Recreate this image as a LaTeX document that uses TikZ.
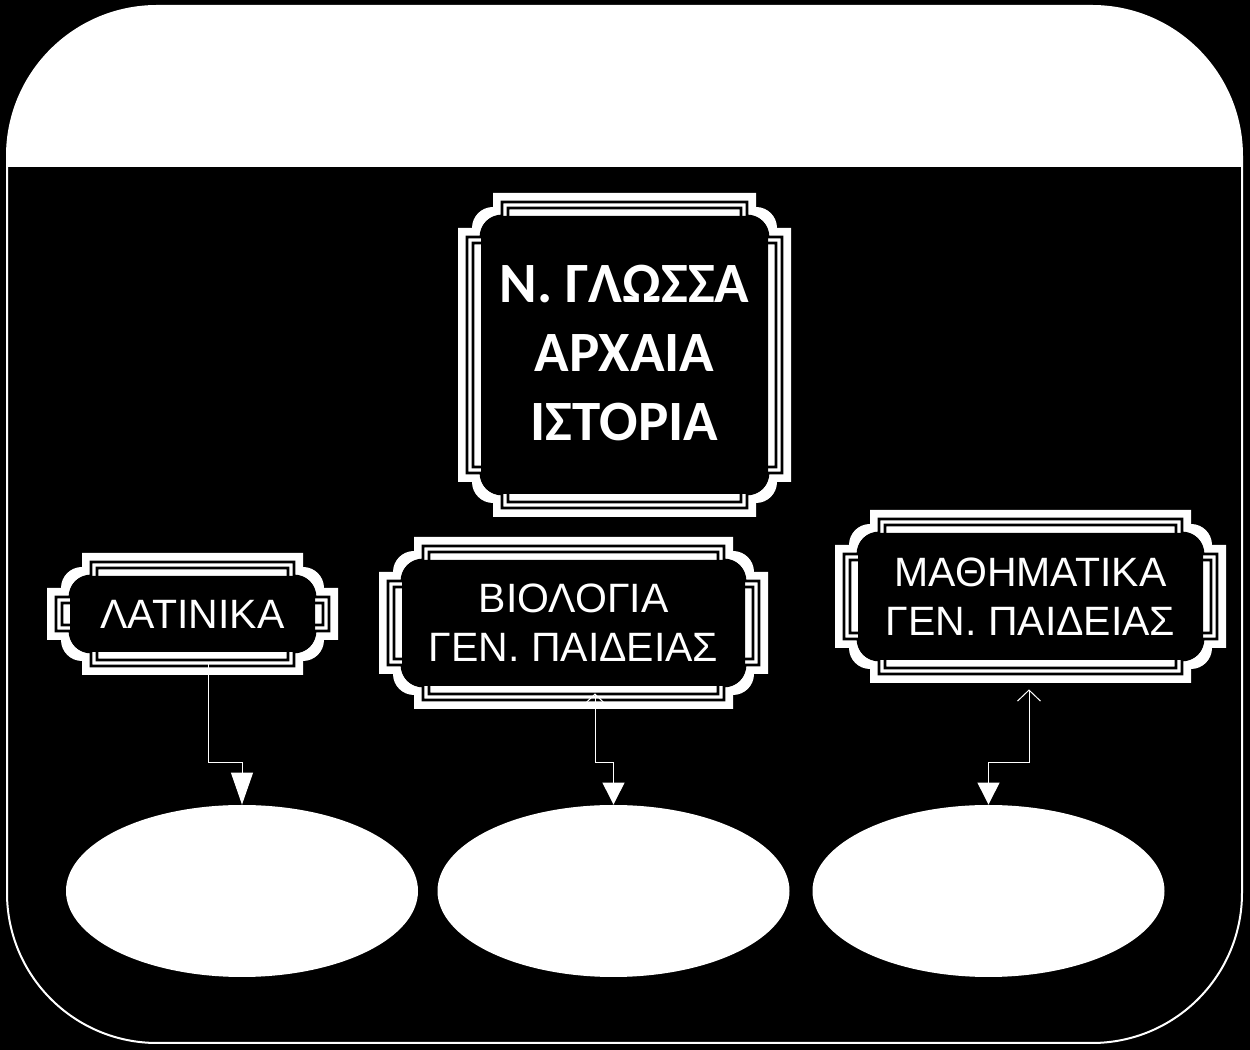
\documentclass[tikz,border=0pt]{standalone}
\usepackage{fontspec}
\setmainfont{Liberation Sans}
\newfontfamily\corefont{Carlito}
\usetikzlibrary{arrows.meta,shapes.geometric}

% plaque outline: left, bottom, right, top (px)
\newcommand{\plaq}[4]{({#1+35},{#4}) -- ({#3-35},{#4}) -- ({#3-35},{#4-14})
  arc[start angle=90,end angle=0,radius=21] -- ({#3},{#4-35}) -- ({#3},{#2+35})
  -- ({#3-14},{#2+35}) arc[start angle=0,end angle=-90,radius=21] -- ({#3-35},{#2})
  -- ({#1+35},{#2}) -- ({#1+35},{#2+14}) arc[start angle=-90,end angle=-180,radius=21]
  -- ({#1},{#2+35}) -- ({#1},{#4-35}) -- ({#1+14},{#4-35})
  arc[start angle=180,end angle=90,radius=21] -- cycle}

\begin{document}
\begin{tikzpicture}[x=0.5pt,y=0.5pt,
  subj/.style={text=white,align=center,inner sep=0pt,
    font=\fontsize{20.5}{24.5}\selectfont},
  oval/.style={ellipse,fill=white,inner sep=0pt,minimum width=176pt,minimum height=86pt},
  link/.style={white,line width=0.5pt}]
  \fill[black] (0,0) rectangle (1250,1050);
  \useasboundingbox (0,0) rectangle (1250,1050);
  % outer panel with white header
  \begin{scope}
    \clip[rounded corners=75pt] (7,7) rectangle (1242,1044);
    \fill[white] (0,883) rectangle (1250,1050);
  \end{scope}
  \draw[white,line width=1pt,rounded corners=75pt] (7,7) rectangle (1242,1044);
  % frames
  \foreach \L/\B/\R/\T in {458/533/791/857,47/375/338/497,379/341/768/513,835/367/1226/540}{
    \fill[white] \plaq{\L}{\B}{\R}{\T};
    \draw[black,line width=1.4pt] \plaq{\L+9}{\B+9}{\R-9}{\T-9};
    \draw[black,line width=1.4pt] \plaq{\L+15}{\B+15}{\R-15}{\T-15};
    \fill[black,rounded corners=9pt] (\L+23,\B+23) rectangle (\R-23,\T-23);}
  % texts
  \node[subj,minimum width=166.5pt,minimum height=162pt,
    font=\corefont\bfseries\fontsize{28.5}{34.5}\selectfont] (core) at (624.5,697)
    {Ν. ΓΛΩΣΣΑ\\ΑΡΧΑΙΑ\\ΙΣΤΟΡΙΑ};
  \node[subj,minimum width=145.5pt,minimum height=61pt] (lat) at (192.5,436) {ΛΑΤΙΝΙΚΑ};
  \node[subj,minimum width=194.5pt,minimum height=86pt] (bio) at (573.5,427)
    {ΒΙΟΛΟΓΙΑ\\ΓΕΝ. ΠΑΙΔΕΙΑΣ};
  \node[subj,minimum width=195.5pt,minimum height=86.5pt] (math) at (1030.5,453.5)
    {ΜΑΘΗΜΑΤΙΚΑ\\ΓΕΝ. ΠΑΙΔΕΙΑΣ};
  % ovals
  \node[oval] (ellL) at (242,159) {};
  \node[oval] (ellM) at (613.5,159) {};
  \node[oval] (ellR) at (988.5,159) {};
  % connectors
  \draw[link,-{Triangle[width=11pt,length=16pt]}]
    ([shift={(15.5,13)}]lat.south) -- ++(0,-100) -| (ellL.north);
  \draw[link,{Straight Barb[width=11.5pt,length=5.5pt]}-{Triangle[width=11pt,length=11pt]}]
    ([shift={(21.5,16)}]bio.south) -- ++(0,-69) -| (ellM.north);
  \draw[link,{Straight Barb[width=11.5pt,length=5.5pt]}-{Triangle[width=11pt,length=11pt]}]
    ([shift={(-1.5,-6)}]math.south) -- ++(0,-73) -| (ellR.north);
\end{tikzpicture}
\end{document}
